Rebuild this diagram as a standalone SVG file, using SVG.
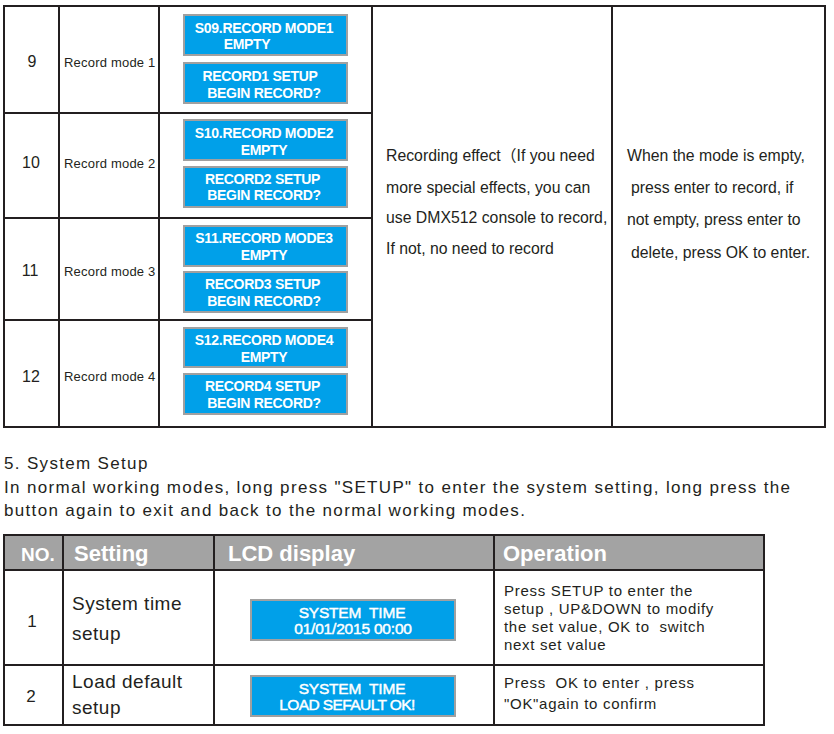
<svg xmlns="http://www.w3.org/2000/svg" width="834" height="734" viewBox="0 0 834 734">
<style>
text{font-family:"Liberation Sans",Arial,"Noto Sans CJK SC",sans-serif;fill:#231F20}
.ln{stroke:#231F20;stroke-width:2;fill:none}
.lcd{fill:#00A0E9;stroke:#A0A0A0;stroke-width:2}
.lt{fill:#fff;font-weight:bold;font-size:14px;letter-spacing:-0.3px;text-anchor:middle}
.num{font-size:16px;text-anchor:middle}
.lbl{font-size:13px;letter-spacing:0.2px}
.desc{font-size:15.8px}
.body{font-size:17px;letter-spacing:1.33px}
.hd{fill:#fff;font-weight:bold;font-size:22px}
.num2{font-size:17px;text-anchor:middle}
.set{font-size:19px;letter-spacing:0.5px}
.lt2{fill:#fff;stroke:#fff;stroke-width:0.45px;font-size:15.5px;text-anchor:middle;letter-spacing:-0.2px}
.op{font-size:15px;letter-spacing:0.7px}
</style>
<rect width="834" height="734" fill="#fff"/>

<g id="grid">
  <rect class="ln" x="4" y="6" width="821" height="421"/>
  <line class="ln" x1="59" y1="6" x2="59" y2="427"/>
  <line class="ln" x1="159" y1="6" x2="159" y2="427"/>
  <line class="ln" x1="372" y1="6" x2="372" y2="427"/>
  <line class="ln" x1="612" y1="6" x2="612" y2="427"/>
  <line class="ln" x1="4" y1="113" x2="372" y2="113"/>
  <line class="ln" x1="4" y1="218" x2="372" y2="218"/>
  <line class="ln" x1="4" y1="320" x2="372" y2="320"/>
  <rect x="4" y="535" width="760" height="35" fill="#A3A3A3"/>
  <rect class="ln" x="4" y="535" width="760" height="190"/>
  <line class="ln" x1="4" y1="570" x2="764" y2="570"/>
  <line class="ln" x1="4" y1="665" x2="764" y2="665"/>
  <line class="ln" x1="63" y1="535" x2="63" y2="725"/>
  <line class="ln" x1="214" y1="535" x2="214" y2="725"/>
  <line class="ln" x1="494" y1="535" x2="494" y2="725"/>
</g>

<g id="row9">
  <text class="num" x="32" y="67">9</text>
  <text class="lbl" x="64" y="67">Record mode 1</text>
  <rect class="lcd" x="184" y="15" width="163" height="40"/>
  <text class="lt" x="264" y="33">S09.RECORD MODE1</text>
  <text class="lt" x="247" y="49">EMPTY</text>
  <rect class="lcd" x="184" y="63" width="163" height="40"/>
  <text class="lt" x="260" y="81">RECORD1 SETUP</text>
  <text class="lt" x="264" y="98">BEGIN RECORD?</text>
</g>

<g id="row10">
  <text class="num" x="31" y="168">10</text>
  <text class="lbl" x="64" y="168">Record mode 2</text>
  <rect class="lcd" x="184" y="120" width="163" height="40"/>
  <text class="lt" x="264" y="138">S10.RECORD MODE2</text>
  <text class="lt" x="264" y="155">EMPTY</text>
  <rect class="lcd" x="184" y="167" width="163" height="40"/>
  <text class="lt" x="262.5" y="184">RECORD2 SETUP</text>
  <text class="lt" x="264" y="200">BEGIN RECORD?</text>
</g>

<g id="row11">
  <text class="num" x="30" y="276">11</text>
  <text class="lbl" x="64" y="276">Record mode 3</text>
  <rect class="lcd" x="184" y="226" width="163" height="40"/>
  <text class="lt" x="264" y="243">S11.RECORD MODE3</text>
  <text class="lt" x="264" y="260">EMPTY</text>
  <rect class="lcd" x="184" y="272" width="163" height="40"/>
  <text class="lt" x="262.5" y="289">RECORD3 SETUP</text>
  <text class="lt" x="264" y="306">BEGIN RECORD?</text>
</g>

<g id="row12">
  <text class="num" x="31" y="382">12</text>
  <text class="lbl" x="64" y="381">Record mode 4</text>
  <rect class="lcd" x="184" y="328" width="163" height="39"/>
  <text class="lt" x="264" y="345">S12.RECORD MODE4</text>
  <text class="lt" x="264" y="362">EMPTY</text>
  <rect class="lcd" x="184" y="374" width="163" height="40"/>
  <text class="lt" x="262.5" y="391">RECORD4 SETUP</text>
  <text class="lt" x="264" y="408">BEGIN RECORD?</text>
</g>

<g id="effect">
  <text class="desc" x="386" y="160.5">Recording effect（If you need</text>
  <text class="desc" x="386" y="192.5">more special effects, you can</text>
  <text class="desc" x="386" y="222.5">use DMX512 console to record,</text>
  <text class="desc" x="386" y="254">If not, no need to record</text>
</g>

<g id="operation9-12">
  <text class="desc" x="627" y="160.5">When the mode is empty,</text>
  <text class="desc" x="631" y="192.5">press enter to record, if</text>
  <text class="desc" x="627" y="225">not empty, press enter to</text>
  <text class="desc" x="631" y="258">delete, press OK to enter.</text>
</g>

<g id="section5">
  <text class="body" x="4" y="469">5. System Setup</text>
  <text class="body" x="4" y="492.5">In normal working modes, long press "SETUP" to enter the system setting, long press the</text>
  <text class="body" x="4" y="515.5">button again to exit and back to the normal working modes.</text>
</g>

<g id="header">
  <text class="hd" x="21" y="561" style="font-size:19px">NO.</text>
  <text class="hd" x="74" y="561">Setting</text>
  <text class="hd" x="228" y="561">LCD display</text>
  <text class="hd" x="503" y="561">Operation</text>
</g>

<g id="sys1">
  <text class="num2" x="32" y="627">1</text>
  <text class="set" x="72" y="610">System time</text>
  <text class="set" x="72" y="640">setup</text>
  <rect class="lcd" x="251" y="600" width="204" height="40"/>
  <text class="lt2" x="352" y="618" xml:space="preserve">SYSTEM  TIME</text>
  <text class="lt2" x="353" y="634">01/01/2015 00:00</text>
  <text class="op" x="504" y="596">Press SETUP to enter the</text>
  <text class="op" x="504" y="614">setup , UP&amp;DOWN to modify</text>
  <text class="op" x="504" y="632" xml:space="preserve">the set value, OK to  switch</text>
  <text class="op" x="504" y="650">next set value</text>
</g>

<g id="sys2">
  <text class="num2" x="31" y="702">2</text>
  <text class="set" x="72" y="688">Load default</text>
  <text class="set" x="72" y="714">setup</text>
  <rect class="lcd" x="251" y="676" width="204" height="40"/>
  <text class="lt2" x="352" y="694" xml:space="preserve">SYSTEM  TIME</text>
  <text class="lt2" x="347" y="710" style="letter-spacing:-0.6px">LOAD SEFAULT OK!</text>
  <text class="op" x="504" y="688" xml:space="preserve">Press  OK to enter , press</text>
  <text class="op" x="504" y="709">"OK"again to confirm</text>
</g>
</svg>
